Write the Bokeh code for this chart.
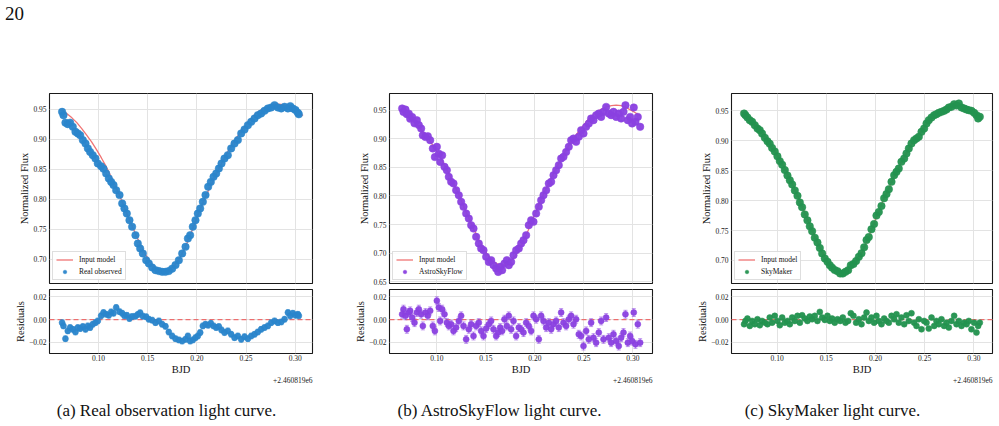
from bokeh.plotting import figure
from bokeh.layouts import column, row
from bokeh.models import (ColumnDataSource, Range1d, FixedTicker, CustomJSTickFormatter,
                          Whisker, TeeHead, Span, Legend, LegendItem, Title, Div)
from bokeh.embed import file_html
from bokeh.resources import INLINE

SERIF = "Liberation Serif"

# ---------------------------------------------------------------- data
BJD_OFFSET_LABEL = "+2.460819e6"
X_TICKS = [0.10, 0.15, 0.20, 0.25, 0.30]
FLUX_TICKS = [0.70, 0.75, 0.80, 0.85, 0.90, 0.95]
FLUX_TICKS_WIDE = [0.65, 0.70, 0.75, 0.80, 0.85, 0.90, 0.95]
RESID_TICKS = [-0.02, 0.00, 0.02]

# input model (BJD - 2460819, normalized flux)
MODEL_T = [0.063, 0.068, 0.073, 0.078, 0.083, 0.088, 0.093, 0.098, 0.103, 0.108,
           0.113, 0.118, 0.123, 0.128, 0.133, 0.138, 0.143, 0.148, 0.153, 0.158,
           0.163, 0.168, 0.173, 0.178, 0.183, 0.188, 0.193, 0.198, 0.203, 0.208,
           0.213, 0.218, 0.223, 0.228, 0.233, 0.238, 0.243, 0.248, 0.253, 0.258,
           0.263, 0.268, 0.273, 0.278, 0.283, 0.288, 0.293, 0.298, 0.303, 0.308]
MODEL_F = [0.949, 0.943, 0.936, 0.928, 0.918, 0.907, 0.896, 0.883, 0.869, 0.854,
           0.837, 0.819, 0.800, 0.780, 0.760, 0.741, 0.723, 0.707, 0.694, 0.685,
           0.680, 0.679, 0.683, 0.691, 0.703, 0.719, 0.739, 0.760, 0.781, 0.801,
           0.819, 0.836, 0.853, 0.869, 0.884, 0.897, 0.909, 0.920, 0.931, 0.940,
           0.947, 0.952, 0.956, 0.958, 0.959, 0.958, 0.955, 0.950, 0.945, 0.940]

# real observation
REAL_T = [0.0630, 0.0644, 0.0664, 0.0688, 0.0712, 0.0739, 0.0766, 0.0790, 0.0814, 0.0841,
          0.0868, 0.0892, 0.0915, 0.0942, 0.0969, 0.0993, 0.1027, 0.1051, 0.1078, 0.1105,
          0.1129, 0.1153, 0.1180, 0.1214, 0.1241, 0.1264, 0.1288, 0.1315, 0.1342, 0.1376,
          0.1400, 0.1424, 0.1451, 0.1485, 0.1512, 0.1546, 0.1580, 0.1614, 0.1647, 0.1681,
          0.1715, 0.1749, 0.1783, 0.1817, 0.1851, 0.1885, 0.1909, 0.1932, 0.1959, 0.1986,
          0.2010, 0.2034, 0.2061, 0.2088, 0.2115, 0.2142, 0.2170, 0.2197, 0.2224, 0.2251,
          0.2281, 0.2315, 0.2349, 0.2383, 0.2417, 0.2451, 0.2485, 0.2519, 0.2553, 0.2587,
          0.2620, 0.2654, 0.2688, 0.2722, 0.2756, 0.2790, 0.2824, 0.2858, 0.2892, 0.2926,
          0.2950, 0.2976, 0.3003, 0.3027, 0.3037]
REAL_F = [0.946, 0.9405, 0.928, 0.9255, 0.928, 0.921, 0.9127, 0.910, 0.907, 0.8988,
          0.893, 0.885, 0.879, 0.8737, 0.868, 0.8598, 0.855, 0.851, 0.843, 0.8347,
          0.829, 0.8236, 0.815, 0.807, 0.793, 0.7846, 0.776, 0.765, 0.754, 0.740,
          0.726, 0.7177, 0.7094, 0.698, 0.6927, 0.686, 0.6815, 0.680, 0.6787, 0.6787,
          0.680, 0.684, 0.690, 0.698, 0.7094, 0.7205, 0.7344, 0.740, 0.754, 0.765,
          0.776, 0.7846, 0.7957, 0.807, 0.8208, 0.829, 0.8375, 0.843, 0.8514, 0.8598,
          0.868, 0.8737, 0.885, 0.893, 0.8988, 0.910, 0.9166, 0.9238, 0.9294, 0.935,
          0.9405, 0.9433, 0.9478, 0.9517, 0.9533, 0.9572, 0.9533, 0.9517, 0.9545, 0.9517,
          0.9556, 0.9517, 0.949, 0.9444, 0.942]
REAL_R = [-0.0027, -0.0056, -0.0169, -0.0100, -0.0071, -0.0086, -0.0110, -0.0071, -0.0080, -0.0062,
          -0.0086, -0.0056, -0.0071, -0.0041, -0.0027, -0.0012, 0.0033, 0.0062, 0.0047, 0.0038,
          0.0068, 0.0056, 0.0107, 0.0070, 0.0056, 0.0033, 0.0038, 0.0009, 0.0027, 0.0030,
          0.0045, 0.0060, 0.0030, 0.0025, 0.0003, -0.0005, -0.0027, -0.0012, -0.0041, -0.0060,
          -0.0110, -0.0145, -0.0169, -0.0180, -0.0190, -0.0175, -0.0145, -0.0190, -0.0180, -0.0160,
          -0.0145, -0.0115, -0.0056, -0.0041, -0.0050, -0.0033, -0.0056, -0.0071, -0.0062, -0.0092,
          -0.0115, -0.0100, -0.0130, -0.0160, -0.0145, -0.0175, -0.0151, -0.0169, -0.0145, -0.0130,
          -0.0110, -0.0086, -0.0071, -0.0056, -0.0027, -0.0012, -0.0027, -0.0021, 0.0003, 0.0062,
          0.0033, 0.0056, 0.0038, 0.0047, 0.0033]
REAL_ERR = 0.0025

# AstroSkyFlow simulation
ASF_T = [0.0646, 0.0660, 0.0680, 0.0694, 0.0714, 0.0728, 0.0748, 0.0772, 0.0796, 0.0816,
         0.0840, 0.0857, 0.0884, 0.0908, 0.0932, 0.0959, 0.0980, 0.1000, 0.1020, 0.1034,
         0.1054, 0.1078, 0.1102, 0.1122, 0.1146, 0.1170, 0.1197, 0.1224, 0.1248, 0.1272,
         0.1299, 0.1326, 0.1350, 0.1374, 0.1401, 0.1428, 0.1452, 0.1476, 0.1503, 0.1530,
         0.1554, 0.1578, 0.1605, 0.1626, 0.1646, 0.1666, 0.1690, 0.1714, 0.1734, 0.1758,
         0.1782, 0.1809, 0.1836, 0.1860, 0.1884, 0.1911, 0.1938, 0.1962, 0.1986, 0.2013,
         0.2040, 0.2064, 0.2088, 0.2115, 0.2142, 0.2166, 0.2190, 0.2217, 0.2244, 0.2268,
         0.2292, 0.2319, 0.2346, 0.2370, 0.2394, 0.2421, 0.2448, 0.2472, 0.2496, 0.2523,
         0.2550, 0.2574, 0.2598, 0.2625, 0.2652, 0.2676, 0.2700, 0.2727, 0.2754, 0.2778,
         0.2802, 0.2829, 0.2856, 0.2880, 0.2904, 0.2924, 0.2948, 0.2972, 0.2992, 0.3009,
         0.3026, 0.3050, 0.3074]
ASF_F = [0.953, 0.947, 0.951, 0.943, 0.944, 0.935, 0.938, 0.927, 0.9325, 0.924,
         0.918, 0.906, 0.903, 0.9045, 0.8975, 0.883, 0.868, 0.886, 0.874, 0.8596,
         0.871, 0.851, 0.845, 0.8334, 0.8247, 0.8218, 0.810, 0.8013, 0.7897, 0.781,
         0.7693, 0.7605, 0.7489, 0.743, 0.7285, 0.7168, 0.7081, 0.7051, 0.6935, 0.6847,
         0.6877, 0.6789, 0.6731, 0.6672, 0.676, 0.6702, 0.6818, 0.6877, 0.6789, 0.6847,
         0.6964, 0.7051, 0.7081, 0.7168, 0.7227, 0.7314, 0.7489, 0.7576, 0.7547, 0.7693,
         0.781, 0.7926, 0.8013, 0.810, 0.8218, 0.8247, 0.8363, 0.845, 0.8538, 0.8655,
         0.8684, 0.8771, 0.8859, 0.8975, 0.9004, 0.8946, 0.9034, 0.915, 0.9092, 0.9209,
         0.9267, 0.9354, 0.9325, 0.9413, 0.9442, 0.9383, 0.9471, 0.9558, 0.9442, 0.9413,
         0.9471, 0.9383, 0.9442, 0.9354, 0.9471, 0.9587, 0.9325, 0.9383, 0.9267, 0.9547,
         0.9296, 0.9383, 0.9209]
ASF_R = [0.0047, 0.0092, 0.0033, -0.0086, 0.0062, 0.0077, 0.0018, -0.0027, 0.0062, 0.0092,
         0.0047, -0.0056, 0.0062, 0.0033, 0.0077, -0.0056, -0.0100, 0.0166, 0.0107, -0.0012,
         0.0092, 0.0047, -0.0027, -0.0056, -0.0041, -0.0100, -0.0071, -0.0012, 0.0033, -0.0056,
         -0.0175, -0.0086, -0.0041, -0.0145, -0.0056, -0.0027, -0.0100, -0.0145, -0.0080, -0.0041,
         -0.0012, -0.0086, -0.0145, -0.0115, -0.0071, -0.0100, 0.0003, -0.0056, 0.0033, -0.0086,
         -0.0012, -0.0145, -0.0071, -0.0086, -0.0115, -0.0027, -0.0056, -0.0100, 0.0033, 0.0003,
         -0.0175, 0.0033, -0.0012, -0.0071, -0.0027, -0.0086, -0.0041, -0.0012, -0.0071, 0.0062,
         -0.0027, -0.0056, 0.0003, 0.0033, -0.0041, 0.0003, -0.0130, -0.0145, -0.0234, -0.0100,
         -0.0175, -0.0027, -0.0160, -0.0204, -0.0115, -0.0012, -0.0175, 0.0018, -0.0160, -0.0204,
         -0.0130, -0.0190, -0.0234, -0.0160, -0.0115, 0.0047, -0.0204, -0.0145, -0.0190, 0.0062,
         -0.0219, -0.0041, -0.0204]
ASF_ERR = 0.0035

# SkyMaker simulation
SKY_T = [0.0664, 0.0678, 0.0698, 0.0722, 0.0746, 0.0773, 0.0800, 0.0824, 0.0847, 0.0875,
         0.0902, 0.0925, 0.0949, 0.0976, 0.1003, 0.1027, 0.1051, 0.1078, 0.1105, 0.1129,
         0.1153, 0.1180, 0.1207, 0.1231, 0.1254, 0.1281, 0.1308, 0.1332, 0.1356, 0.1383,
         0.1410, 0.1434, 0.1458, 0.1485, 0.1512, 0.1536, 0.1559, 0.1586, 0.1614, 0.1641,
         0.1668, 0.1695, 0.1722, 0.1749, 0.1776, 0.1803, 0.1831, 0.1858, 0.1885, 0.1909,
         0.1932, 0.1959, 0.1986, 0.2010, 0.2034, 0.2061, 0.2088, 0.2112, 0.2136, 0.2163,
         0.2190, 0.2214, 0.2237, 0.2264, 0.2292, 0.2315, 0.2339, 0.2366, 0.2393, 0.2417,
         0.2441, 0.2468, 0.2495, 0.2519, 0.2542, 0.2570, 0.2597, 0.2620, 0.2644, 0.2671,
         0.2698, 0.2722, 0.2746, 0.2773, 0.2800, 0.2824, 0.2848, 0.2875, 0.2902, 0.2926,
         0.2949, 0.2976, 0.3003, 0.3027, 0.3044, 0.3061]
SKY_F = [0.9455, 0.9428, 0.9389, 0.9344, 0.9316, 0.926, 0.9205, 0.9177, 0.912, 0.905,
         0.899, 0.895, 0.888, 0.882, 0.874, 0.866, 0.860, 0.851, 0.842, 0.834,
         0.827, 0.817, 0.808, 0.797, 0.789, 0.777, 0.767, 0.757, 0.749, 0.738,
         0.730, 0.721, 0.7116, 0.7032, 0.698, 0.692, 0.688, 0.684, 0.682, 0.6782,
         0.6782, 0.681, 0.6838, 0.692, 0.694, 0.699, 0.706, 0.712, 0.722, 0.734,
         0.739, 0.752, 0.761, 0.775, 0.781, 0.791, 0.804, 0.811, 0.819, 0.8314,
         0.8425, 0.8481, 0.8536, 0.8648, 0.8703, 0.8787, 0.8871, 0.8954, 0.901, 0.9038,
         0.9066, 0.9149, 0.9205, 0.9288, 0.9344, 0.9389, 0.9428, 0.9444, 0.9467, 0.9483,
         0.950, 0.9522, 0.9556, 0.9567, 0.9611, 0.9589, 0.9623, 0.9556, 0.9539, 0.9522,
         0.9511, 0.950, 0.9467, 0.9428, 0.9372, 0.940]
SKY_R = [-0.0041, -0.0012, 0.0009, -0.0056, -0.0012, -0.0041, 0.0003, -0.0050, -0.0012, -0.0027,
         -0.0041, 0.0018, -0.0027, 0.0033, -0.0012, -0.0050, 0.0018, -0.0027, -0.0012, -0.0041,
         0.0018, -0.0012, 0.0033, -0.0027, 0.0038, 0.0009, -0.0012, 0.0027, 0.0003, 0.0033,
         -0.0012, 0.0068, 0.0018, -0.0003, 0.0033, -0.0012, 0.0009, -0.0027, 0.0003, -0.0012,
         0.0018, -0.0027, -0.0012, 0.0056, 0.0033, -0.0027, 0.0003, -0.0041, 0.0018, 0.0062,
         -0.0012, 0.0018, -0.0027, 0.0033, -0.0012, -0.0041, 0.0009, -0.0012, -0.0027, 0.0033,
         0.0003, 0.0047, -0.0027, 0.0018, -0.0041, 0.0038, -0.0012, 0.0056, -0.0027, -0.0056,
         0.0003, -0.0086, -0.0012, -0.0027, -0.0080, 0.0018, -0.0056, -0.0012, -0.0041, 0.0003,
         -0.0056, -0.0027, -0.0071, -0.0012, 0.0033, -0.0041, -0.0012, -0.0056, -0.0027, -0.0041,
         -0.0012, -0.0086, -0.0027, -0.0115, -0.0056, -0.0027]
SKY_ERR = 0.0012

CAPTIONS = ["(a) Real observation light curve.",
            "(b) AstroSkyFlow light curve.",
            "(c) SkyMaker light curve."]

# ---------------------------------------------------------------- styling helpers
TICK_FMT = "return tick.toFixed(2).replace('-', '\\u2212');"
MODEL_COLOR = "#f07474"


def style_axes(p, y_ticks, y_label):
    p.background_fill_color = "white"
    p.border_fill_color = "white"
    p.outline_line_color = "#1a1a1a"
    p.outline_line_width = 1.1
    p.xaxis.ticker = FixedTicker(ticks=X_TICKS)
    p.yaxis.ticker = FixedTicker(ticks=y_ticks)
    p.xgrid.ticker = FixedTicker(ticks=X_TICKS)
    p.ygrid.ticker = FixedTicker(ticks=y_ticks)
    for ax in p.axis:
        ax.formatter = CustomJSTickFormatter(code=TICK_FMT)
        ax.axis_line_color = None
        ax.major_tick_line_color = None
        ax.minor_tick_line_color = None
        ax.major_tick_in = 0
        ax.major_tick_out = 0
        ax.minor_tick_in = 0
        ax.minor_tick_out = 0
        ax.major_label_text_font = SERIF
        ax.major_label_text_font_size = "7.5px"
        ax.major_label_text_color = "#222222"
        ax.major_label_standoff = 3
        ax.axis_label_text_font = SERIF
        ax.axis_label_text_font_size = "10.5px"
        ax.axis_label_text_font_style = "normal"
        ax.axis_label_text_color = "#111111"
        ax.axis_label_standoff = 0
    p.yaxis.axis_label = y_label
    p.grid.grid_line_color = "#e3e3e3"
    p.grid.grid_line_width = 1


def error_bars(src, lower, upper, color):
    head = dict(size=4, line_color=color, line_alpha=0.55, line_width=1)
    return Whisker(source=src, base="t", lower=lower, upper=upper, dimension="height",
                   line_color=color, line_alpha=0.55, line_width=1,
                   lower_head=TeeHead(**head), upper_head=TeeHead(**head))


def build_panel(t, f, r, err, color, name, x_lim, y_lim, y_ticks, width, left, right):
    xr = Range1d(*x_lim)
    src = ColumnDataSource(dict(t=t, f=f,
                                lo=[v - err for v in f], hi=[v + err for v in f],
                                r=r, rlo=[v - err for v in r], rhi=[v + err for v in r]))

    # light curve with the input model
    main = figure(width=width, height=246, x_range=xr, y_range=Range1d(*y_lim),
                  output_backend="svg", toolbar_location=None,
                  min_border_left=left, min_border_right=right,
                  min_border_top=53, min_border_bottom=3)
    style_axes(main, y_ticks, "Normalized Flux")
    main.xaxis.visible = False

    model_r = main.line(MODEL_T, MODEL_F, line_color=MODEL_COLOR, line_width=1.3)
    main.add_layout(error_bars(src, "lo", "hi", color))
    pts = main.scatter("t", "f", source=src, size=7.5, marker="circle",
                       fill_color=color, line_color=color, fill_alpha=0.95, line_alpha=0.5)

    legend = Legend(items=[LegendItem(label="Input model", renderers=[model_r]),
                           LegendItem(label=name, renderers=[pts])],
                    location="bottom_left", margin=3, padding=3, spacing=3,
                    glyph_width=17, glyph_height=9, label_height=9, label_standoff=6,
                    label_text_font=SERIF, label_text_font_size="7.5px",
                    label_text_color="#111111",
                    border_line_color="#bdbdbd", border_line_width=1,
                    background_fill_alpha=0.85)
    main.add_layout(legend)

    # residuals
    res = figure(width=width, height=97, x_range=xr, y_range=Range1d(-0.030, 0.0266),
                 output_backend="svg", toolbar_location=None,
                 min_border_left=left, min_border_right=right,
                 min_border_top=3, min_border_bottom=30)
    style_axes(res, RESID_TICKS, "Residuals")
    res.xaxis.axis_label = "BJD"
    res.xaxis.major_label_standoff = 1
    res.add_layout(Span(location=0, dimension="width", line_color="#ee5050", line_alpha=0.8,
                        line_width=1.2, line_dash="5 3", level="underlay"))
    res.add_layout(error_bars(src, "rlo", "rhi", color))
    res.scatter("t", "r", source=src, size=6, marker="circle",
                fill_color=color, line_color=color, fill_alpha=0.95, line_alpha=0.5)
    # offset of the BJD axis, right-aligned under the frame
    res.add_layout(Title(text=BJD_OFFSET_LABEL, align="right", standoff=-6,
                         text_font=SERIF, text_font_size="7.5px", text_font_style="normal",
                         text_color="#222222"), "below")
    return column(main, res)


panel_a = build_panel(REAL_T, REAL_F, REAL_R, REAL_ERR, "#2a85cb", "Real observed",
                      (0.0502, 0.3176), (0.6592, 0.9767), FLUX_TICKS, 330, 49, 18)
panel_b = build_panel(ASF_T, ASF_F, ASF_R, ASF_ERR, "#8a40e0", "AstroSkyFlow",
                      (0.0517, 0.3200), (0.6469, 0.9792), FLUX_TICKS_WIDE, 330, 59, 8)
panel_c = build_panel(SKY_T, SKY_F, SKY_R, SKY_ERR, "#23924f", "SkyMaker",
                      (0.0536, 0.3190), (0.6615, 0.9790), FLUX_TICKS, 339, 71, 7)

page_no = Div(text=("<div style=\"position:relative;width:999px;height:40px;\">"
                    "<span style=\"position:absolute;left:5px;top:4px;font-family:'Liberation Serif';"
                    "font-size:19px;line-height:1;color:#111;\">20</span></div>"),
              width=999, height=40, margin=(0, 0, 0, 0))

cap_html = "".join(
    f"<div style=\"position:absolute;left:{i * 333}px;top:19px;width:333px;text-align:center;"
    f"font-family:'Liberation Serif';font-size:17px;line-height:1;color:#111;\">{c}</div>"
    for i, c in enumerate(CAPTIONS))
captions = Div(text=f"<div style=\"position:relative;width:999px;height:43px;\">{cap_html}</div>",
               width=999, height=43, margin=(0, 0, 0, 0))

layout = column(page_no, row(panel_a, panel_b, panel_c), captions)

open("out.html", "w").write(file_html(layout, INLINE, title="Light curves"))
